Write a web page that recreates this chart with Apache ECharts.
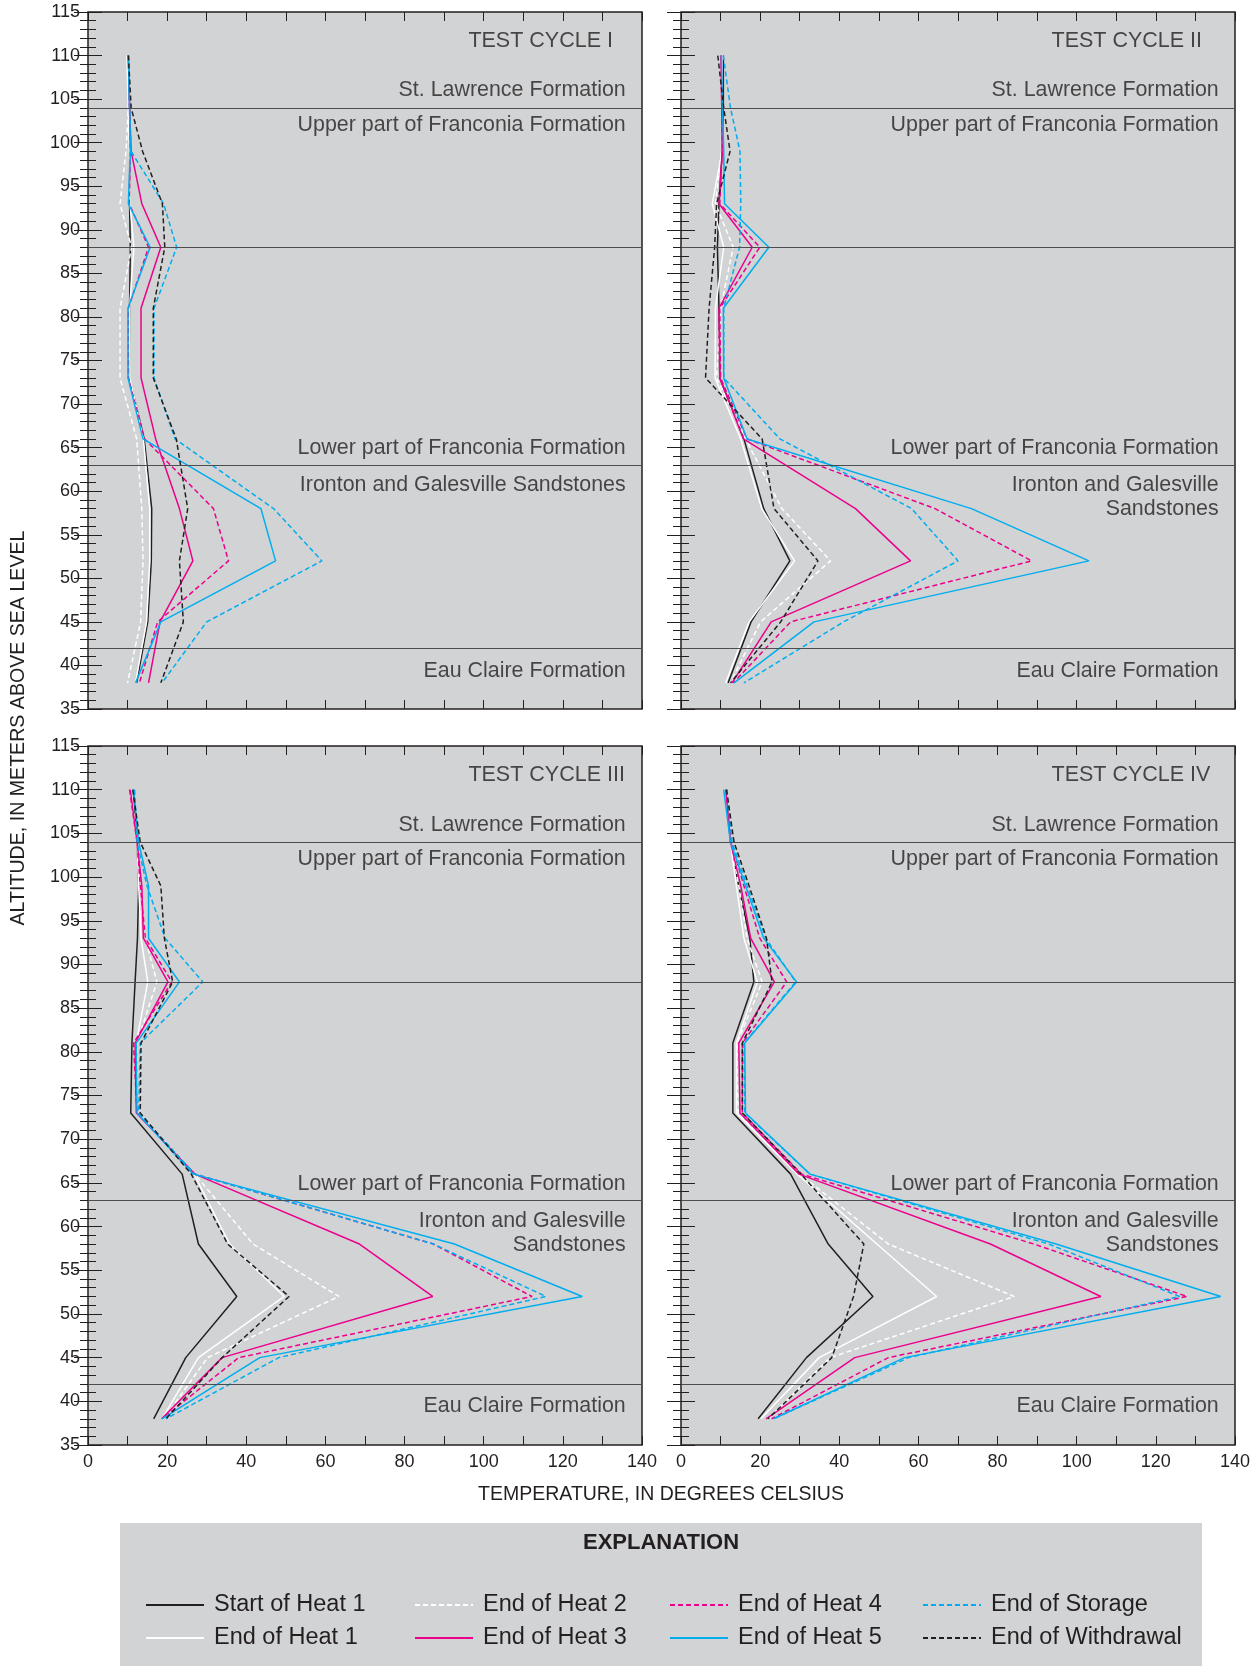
<!DOCTYPE html>
<html>
<head>
<meta charset="utf-8">
<script src="https://cdn.jsdelivr.net/npm/echarts@6/dist/echarts.min.js"></script>
<style>
  html, body { margin: 0; padding: 0; background: #ffffff; }
  #chart { width: 1254px; height: 1666px; }
</style>
</head>
<body>
<div id="chart"></div>
<script>
// altitudes (m above sea level) where temperatures were logged
var altitudes = [110, 104, 99, 93, 88, 81, 73, 66, 58, 52, 45, 38];

var stageNames = [
    'Start of Heat 1', 'End of Heat 1', 'End of Heat 2', 'End of Heat 3',
    'End of Heat 4', 'End of Heat 5', 'End of Storage', 'End of Withdrawal'
];

// temperatures (deg C), one row per stage, same order as altitudes
var cycleI = [
    [10.0, 10.5, 10.5, 10.5, 10.7, 10.5, 10.5, 14.2, 16.1, 16.0, 15.1, 12.3],
    [9.8, 10.2, 10.4, 10.6, 11.6, 10.5, 10.6, 14.0, 15.6, 15.6, 14.8, 12.0],
    [10.0, 10.2, 9.6, 8.1, 11.0, 8.1, 8.1, 12.3, 13.6, 13.9, 13.3, 10.0],
    [10.2, 10.5, 10.9, 13.6, 18.4, 13.4, 13.4, 17.1, 23.1, 26.5, 18.2, 15.3],
    [10.2, 10.5, 10.7, 10.4, 15.3, 10.2, 10.2, 14.3, 31.7, 35.5, 17.6, 13.0],
    [10.2, 10.5, 10.7, 10.2, 15.7, 10.1, 10.1, 13.9, 43.7, 47.4, 18.4, 12.0],
    [10.2, 10.5, 10.9, 19.1, 22.4, 16.7, 16.7, 22.0, 46.9, 59.1, 30.0, 18.7],
    [10.2, 10.9, 13.8, 18.8, 19.4, 16.5, 16.5, 22.3, 25.2, 23.1, 24.1, 18.4]
];
var cycleII = [
    [10.7, 10.7, 10.4, 9.6, 9.2, 9.6, 9.8, 15.9, 20.9, 27.5, 17.7, 11.9],
    [10.3, 10.3, 10.4, 7.9, 10.8, 8.7, 8.6, 15.1, 20.4, 28.7, 17.2, 11.3],
    [10.3, 10.3, 10.2, 8.7, 13.2, 10.0, 9.0, 16.3, 25.5, 37.8, 20.1, 12.5],
    [10.1, 10.3, 10.4, 9.6, 18.0, 9.6, 9.8, 15.8, 44.1, 58.0, 22.8, 12.9],
    [10.2, 10.3, 10.4, 9.8, 19.9, 9.8, 10.0, 16.7, 64.2, 88.6, 27.7, 13.2],
    [10.2, 10.5, 10.8, 11.0, 22.2, 10.7, 10.8, 16.7, 73.4, 103.1, 33.6, 13.4],
    [10.7, 12.5, 14.9, 15.1, 14.8, 10.8, 10.8, 25.0, 58.3, 70.0, 41.1, 15.9],
    [9.3, 10.8, 12.4, 9.0, 8.5, 7.1, 6.2, 20.5, 23.5, 34.6, 25.2, 12.5]
];
var cycleIII = [
    [11.5, 12.4, 12.8, 12.5, 11.9, 11.1, 10.8, 23.8, 27.9, 37.6, 24.7, 16.6],
    [10.7, 12.4, 12.8, 13.4, 15.1, 12.2, 12.2, 26.8, 35.8, 49.6, 27.9, 18.7],
    [10.9, 12.4, 13.0, 14.5, 17.4, 12.4, 12.4, 27.0, 41.7, 63.4, 30.2, 19.2],
    [10.7, 12.4, 13.6, 14.0, 20.2, 11.9, 12.2, 27.0, 68.6, 87.1, 33.9, 18.6],
    [10.5, 12.4, 13.2, 14.5, 21.2, 11.5, 12.4, 27.0, 87.3, 112.2, 38.1, 18.7],
    [11.5, 12.8, 15.3, 15.3, 23.1, 12.2, 12.4, 26.6, 92.6, 124.9, 43.4, 18.7],
    [11.8, 12.4, 14.9, 19.5, 29.0, 13.2, 12.8, 27.0, 87.3, 115.7, 48.2, 19.7],
    [11.3, 13.2, 18.4, 19.3, 21.4, 13.4, 13.2, 26.1, 35.3, 50.8, 33.9, 19.7]
];
var cycleIV = [
    [11.3, 12.5, 14.6, 17.4, 18.4, 13.1, 13.1, 27.7, 37.2, 48.5, 31.7, 19.5],
    [11.2, 12.5, 14.0, 15.9, 19.3, 14.0, 14.0, 29.4, 49.5, 64.6, 34.9, 20.2],
    [11.3, 12.6, 14.6, 16.7, 20.5, 14.2, 14.4, 30.0, 52.4, 84.2, 37.7, 22.0],
    [11.3, 12.5, 15.1, 17.6, 23.6, 14.6, 14.9, 29.8, 78.2, 106.1, 43.9, 21.5],
    [11.4, 12.7, 15.9, 19.9, 26.7, 15.5, 15.5, 30.5, 89.2, 127.9, 52.4, 22.9],
    [10.8, 12.5, 16.3, 20.9, 29.2, 16.1, 16.3, 32.6, 94.8, 136.4, 56.5, 23.4],
    [11.6, 12.9, 16.7, 21.4, 29.0, 15.9, 16.1, 32.6, 92.9, 126.0, 57.5, 23.4],
    [11.5, 13.4, 17.2, 21.6, 23.0, 15.5, 15.5, 30.3, 46.2, 43.6, 38.1, 22.0]
];

var cycles = [cycleI, cycleII, cycleIII, cycleIV];
var cycleTitles = ['TEST CYCLE I', 'TEST CYCLE II', 'TEST CYCLE III', 'TEST CYCLE IV'];
var formationTops = [104, 88, 63, 42];
var formationNames = [
    'St. Lawrence Formation', 'Upper part of Franconia Formation',
    'Lower part of Franconia Formation', 'Ironton and Galesville Sandstones',
    'Eau Claire Formation'
];
var formationLabelAlt = [106.0, 102.0, 64.9, 60.7, 39.4];

var FONT = "'Liberation Sans', Arial, sans-serif";
var INK = '#231f20';

var stageStyles = [
    { color: INK, type: 'solid' },
    { color: '#ffffff', type: 'solid' },
    { color: '#ffffff', type: [5, 3] },
    { color: '#ec008c', type: 'solid' },
    { color: '#ec008c', type: [5, 3] },
    { color: '#00aeef', type: 'solid' },
    { color: '#00aeef', type: [5, 3] },
    { color: INK, type: [5, 3] }
];

var grids = [
    { left: 88, top: 12, width: 554, height: 697 },
    { left: 681, top: 12, width: 554, height: 697 },
    { left: 88, top: 746, width: 554, height: 699 },
    { left: 681, top: 746, width: 554, height: 699 }
];

var xAxes = [], yAxes = [], series = [];

grids.forEach(function (g, gi) {
    g.show = true;
    g.backgroundColor = '#d1d3d4';
    g.borderColor = INK;
    g.borderWidth = 1.5;
    var bottomRow = gi >= 2;
    var leftCol = gi % 2 === 0;

    ['bottom', 'top'].forEach(function (pos) {
        xAxes.push({
            type: 'value', gridIndex: gi, position: pos,
            min: 0, max: 140, interval: 10,
            axisLine: { show: false },
            splitLine: { show: false },
            axisTick: { show: true, inside: true, length: 9, lineStyle: { color: INK, width: 1 } },
            axisLabel: {
                show: pos === 'bottom' && bottomRow,
                margin: 8, fontSize: 18, color: INK, fontFamily: FONT,
                formatter: function (v) { return v % 20 === 0 ? String(v) : ''; }
            }
        });
    });
    ['left', 'right'].forEach(function (pos) {
        yAxes.push({
            type: 'value', gridIndex: gi, position: pos,
            min: 35, max: 115, interval: 5,
            axisLine: { show: false },
            splitLine: { show: false },
            axisTick: { show: true, inside: true, length: 14, lineStyle: { color: INK, width: 1 } },
            minorTick: { show: true, splitNumber: 5, length: 8, lineStyle: { color: INK, width: 1 } },
            axisLabel: {
                show: pos === 'left' && leftCol,
                margin: 8, fontSize: 18, color: INK, fontFamily: FONT
            }
        });
    });

    var xi = gi * 2, yi = gi * 2;
    cycles[gi].forEach(function (temps, k) {
        var s = {
            name: stageNames[k],
            type: 'line',
            xAxisIndex: xi, yAxisIndex: yi,
            symbol: 'none',
            silent: true,
            z: 3,
            lineStyle: { color: stageStyles[k].color, type: stageStyles[k].type, width: 1.5 },
            itemStyle: { color: stageStyles[k].color },
            data: altitudes.map(function (a, i) { return [temps[i], a]; })
        };
        if (k === 0) {
            s.markLine = {
                silent: true, symbol: ['none', 'none'], animation: false,
                label: { show: false },
                lineStyle: { color: '#4d4d4f', width: 1, type: 'solid' },
                data: formationTops.map(function (v) { return { yAxis: v }; })
            };
        }
        series.push(s);
    });

    // formation names, right aligned against the panel edge
    var labelData = formationNames.map(function (n, i) {
        var alt = formationLabelAlt[i];
        if (i === 3 && gi > 0) {
            n = 'Ironton and Galesville\nSandstones';
            alt = 59.3;
        }
        return { name: n, value: [136, alt] };
    });
    series.push({
        type: 'scatter', xAxisIndex: xi, yAxisIndex: yi, silent: true,
        symbolSize: 1, itemStyle: { color: 'rgba(0,0,0,0)' }, z: 5,
        label: {
            show: true, position: 'left', distance: 0, align: 'right',
            fontSize: 21.4, lineHeight: 24, color: INK, fontFamily: FONT,
            formatter: function (p) { return p.name; }
        },
        data: labelData
    });
    series.push({
        type: 'scatter', xAxisIndex: xi, yAxisIndex: yi, silent: true,
        symbolSize: 1, itemStyle: { color: 'rgba(0,0,0,0)' }, z: 5,
        label: {
            show: true, position: 'right', distance: 0,
            fontSize: 21.5, color: INK, fontFamily: FONT,
            formatter: function (p) { return p.name; }
        },
        data: [{ name: cycleTitles[gi], value: [leftCol ? 96 : 93.5, 111.7] }]
    });
});

// legend: four columns of two entries each, line only (no marker)
var legendCols = [140, 409, 664, 917];
var legends = legendCols.map(function (x, c) {
    return {
        orient: 'vertical', left: x, top: 1588,
        data: [stageNames[c * 2], stageNames[c * 2 + 1]],
        itemWidth: 58, itemHeight: 14, itemGap: 9,
        selectedMode: false,
        itemStyle: { opacity: 0 },
        textStyle: { fontSize: 23.5, lineHeight: 23, color: INK, fontFamily: FONT, padding: [0, 0, 0, 5] }
    };
});

var myChart = echarts.init(document.getElementById('chart'), null, { renderer: 'canvas' });
myChart.setOption({
    backgroundColor: '#ffffff',
    animation: false,
    grid: grids,
    xAxis: xAxes,
    yAxis: yAxes,
    legend: legends,
    graphic: [
        {
            type: 'rect', z: 0, silent: true,
            shape: { x: 120, y: 1523, width: 1082, height: 143 },
            style: { fill: '#d1d3d4' }
        },
        {
            type: 'text', x: 19, y: 728, rotation: Math.PI / 2, silent: true,
            style: {
                text: 'ALTITUDE, IN METERS ABOVE SEA LEVEL', fill: INK,
                font: "19.6px 'Liberation Sans', Arial, sans-serif",
                align: 'center', verticalAlign: 'middle'
            }
        },
        {
            type: 'text', x: 661, y: 1495, silent: true,
            style: {
                text: 'TEMPERATURE, IN DEGREES CELSIUS', fill: INK,
                font: "19.5px 'Liberation Sans', Arial, sans-serif",
                align: 'center', verticalAlign: 'middle'
            }
        },
        {
            type: 'text', x: 661, y: 1543, silent: true, z: 1,
            style: {
                text: 'EXPLANATION', fill: INK,
                font: "bold 22px 'Liberation Sans', Arial, sans-serif",
                align: 'center', verticalAlign: 'middle'
            }
        }
    ],
    series: series
});
</script>
</body>
</html>
